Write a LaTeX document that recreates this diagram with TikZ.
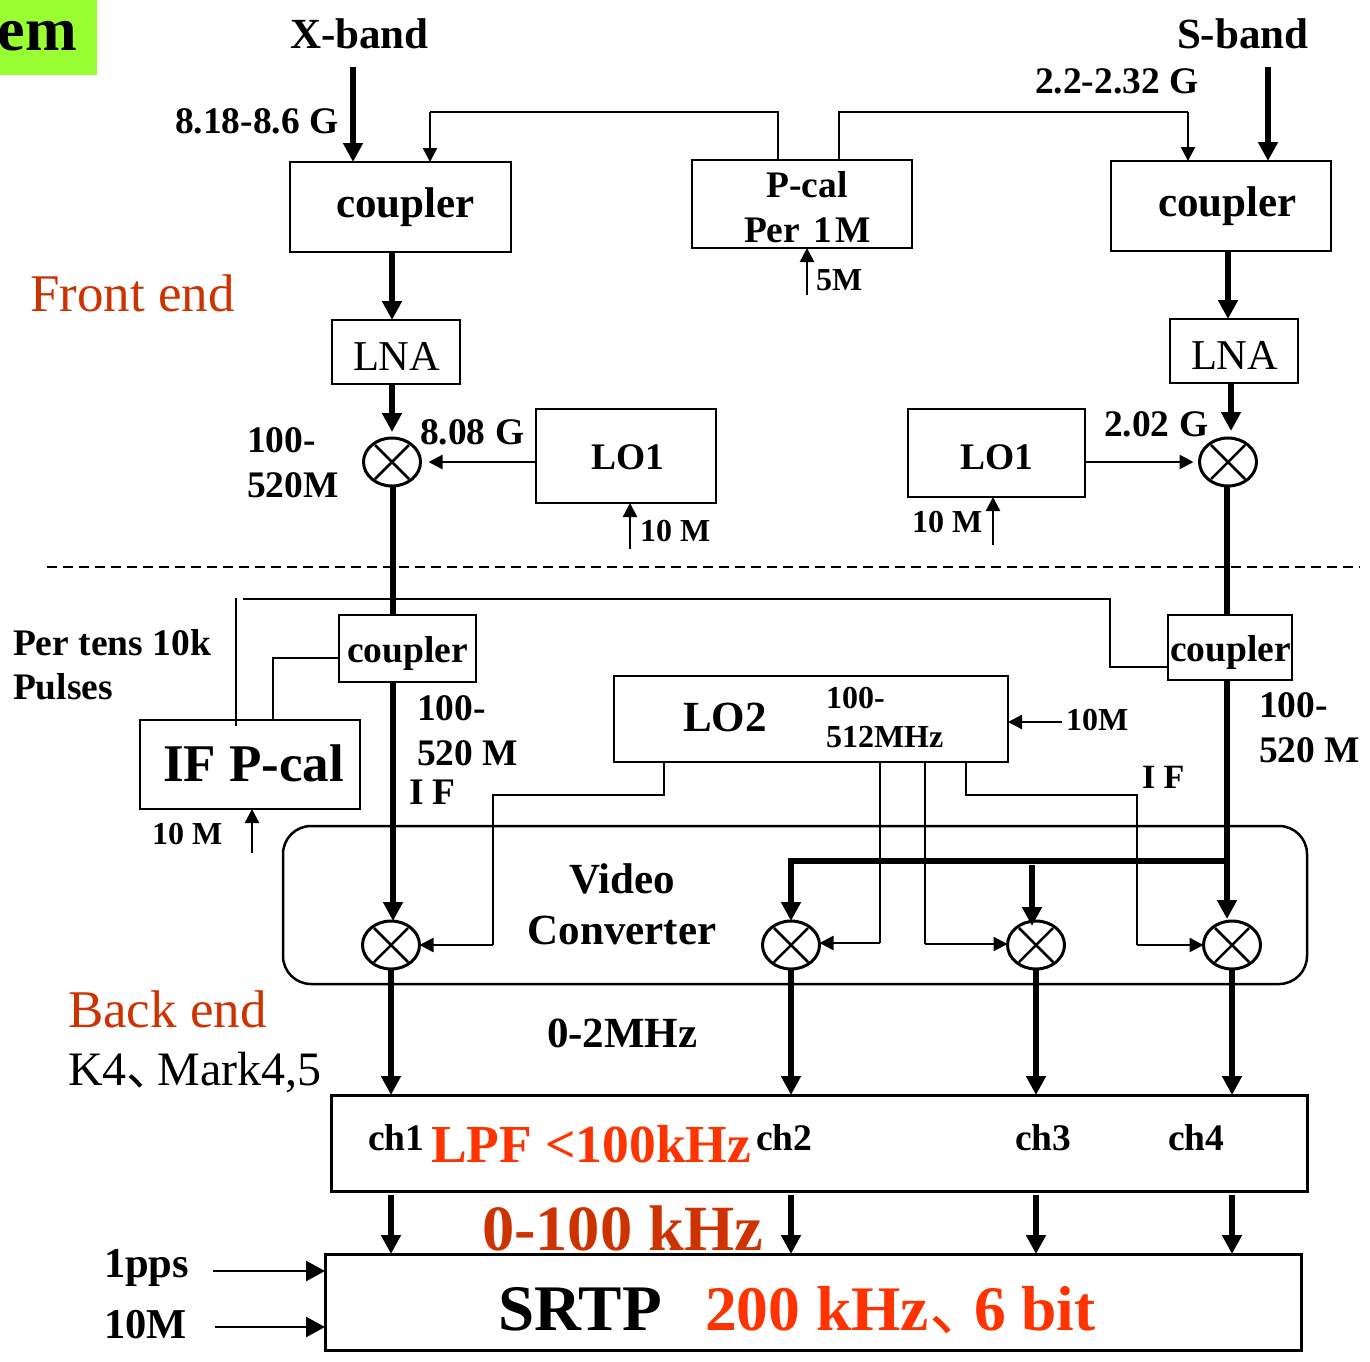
\documentclass[tikz,border=0pt]{standalone}
\usepackage{fontspec}
\setmainfont{Liberation Serif}
\newfontfamily\cjkf{Noto Sans CJK SC}
\usetikzlibrary{arrows.meta,shapes.geometric,calc}
\definecolor{limeg}{HTML}{99FF33}
\definecolor{rust}{HTML}{CC3300}
\definecolor{redor}{HTML}{FF3300}
\newcommand{\fsz}[1]{\fontsize{#1}{#1}\selectfont}
\newcommand{\dunhao}[1]{\makebox[#1][l]{\mdseries\cjkf 、}}
\tikzset{
  x=1pt,y=-1pt,
  box/.style={draw,line width=2.5pt,inner sep=0pt,outer sep=0pt},
  lab/.style={anchor=base west,inner sep=0pt,outer sep=0pt},
  labc/.style={anchor=base,inner sep=0pt,outer sep=0pt},
  bA/.style={font=\fsz{43}\bfseries},
  bB/.style={font=\fsz{37.5}\bfseries},
  bC/.style={font=\fsz{32}\bfseries},
  rA/.style={font=\fsz{42.5}},
  rB/.style={font=\fsz{53},text=rust},
  mixer/.style={ellipse,draw,line width=3pt,minimum width=57pt,minimum height=48pt,inner sep=0pt,outer sep=0pt,
    path picture={\draw[line width=2.5pt]
      ([shift={(-17pt,-17pt)}]path picture bounding box.center)--([shift={(17pt,17pt)}]path picture bounding box.center)
      ([shift={(-17pt,17pt)}]path picture bounding box.center)--([shift={(17pt,-17pt)}]path picture bounding box.center);}},
  thickarr/.style={line width=6pt,-{Triangle[width=19pt,length=19pt]}},
  thickline/.style={line width=6pt},
  thinarr/.style={line width=2.4pt,-{Triangle[width=14pt,length=14pt]}},
  ppsarr/.style={line width=2.4pt,-{Triangle[width=20pt,length=19pt]}},
  thinline/.style={line width=2.4pt,line join=miter},
}
\begin{document}
\begin{tikzpicture}
\useasboundingbox (0,0) rectangle (1370,1361);
% corner tag
\fill[limeg] (0,0) rectangle (97,75);
\begin{scope}
\clip (0,0) rectangle (97,75);
\node[anchor=base east,inner sep=0pt,font=\fsz{62}\bfseries] (tag) at (77,50) {em};
\end{scope}
% boxes
\node[box,minimum width=221pt,minimum height=90pt] (c1) at (400.5,207) {};
\node[box,minimum width=220pt,minimum height=88pt] (pc) at (802,204) {};
\node[box,minimum width=220pt,minimum height=90pt] (c2) at (1221,206) {};
\node[box,minimum width=128pt,minimum height=64pt] (lna1) at (396,352) {};
\node[box,minimum width=128pt,minimum height=64pt] (lna2) at (1234,351) {};
\node[box,minimum width=180pt,minimum height=94pt] (loa) at (626,456) {};
\node[box,minimum width=177pt,minimum height=88pt] (lob) at (996.5,453) {};
\node[box,minimum width=137pt,minimum height=67pt] (c3) at (407.5,648.5) {};
\node[box,minimum width=124pt,minimum height=65pt] (c4) at (1230,647.5) {};
\node[box,minimum width=220pt,minimum height=89pt] (ifp) at (250,764.5) {};
\node[box,minimum width=394pt,minimum height=86pt] (lo2) at (811,719) {};
\node[box,rounded corners=28pt,minimum width=1024pt,minimum height=158pt] (vc) at (795,905) {};
\node[box,line width=3pt,minimum width=976pt,minimum height=96pt] (lpf) at (819,1143) {};
\node[box,line width=3pt,minimum width=976pt,minimum height=96pt] (srtp) at (813,1302) {};
% mixers
\node[mixer] (m1) at (392,462) {};
\node[mixer] (m2) at (1228,462) {};
\node[mixer] (m3) at (391,945) {};
\node[mixer] (m4) at (791,945) {};
\node[mixer] (m5) at (1036,945) {};
\node[mixer] (m6) at (1232,945) {};
% free ends
\coordinate (xin) at (353,67);
\coordinate (sin) at (1268,67);
\coordinate (pl) at (778,112);
\coordinate (pr) at (839,112);
\coordinate (tl) at (430,112);
\coordinate (tr) at (1188,112);
\coordinate (fa) at (807,295);
\coordinate (fb) at (630,549);
\coordinate (fc) at (993,545);
\coordinate (fd) at (252,853);
\coordinate (fe) at (1062,722);
\coordinate (pps) at (213,1271);
\coordinate (tenm) at (215,1327);
\coordinate (da) at (47,567);
\coordinate (db) at (1360,567);
\coordinate (jn) at (1224,860.5);
\coordinate (jm) at (1032,865);
% top connectors
\draw[thickarr] (xin) -- (xin |- c1.north);
\draw[thickarr] (sin) -- (sin |- c2.north);
\draw[thinline] (pl |- pc.north) -- (pl) -- (tl);
\draw[thinarr] (tl) -- (tl |- c1.north);
\draw[thinline] (pr |- pc.north) -- (pr) -- (tr);
\draw[thinarr] (tr) -- (tr |- c2.north);
\draw[thinarr] (fa) -- (fa |- pc.south);
% front end chain
\draw[thickarr] (m1.north |- c1.south) -- (m1.north |- lna1.north);
\draw[thickarr] (m1.north |- lna1.south) -- ([yshift=6pt]m1.north);
\draw[thickarr] (m2.north |- c2.south) -- (m2.north |- lna2.north);
\draw[thickarr] ([xshift=3pt]m2.north |- lna2.south) -- ([xshift=3pt,yshift=7pt]m2.north);
\draw[thinarr] (loa.west |- m1.east) -- ([xshift=8pt]m1.east);
\draw[thinarr] (lob.east |- m2.west) -- ([xshift=-6pt]m2.west);
\draw[thinarr] (fb) -- (fb |- loa.south);
\draw[thinarr] (fc) -- (fc |- lob.south);
\draw[line width=2pt,dash pattern=on 10pt off 6pt] (da) -- (db);
% IF couplers
\draw[thickline] ([xshift=1pt]m1.south) -- ([xshift=1pt]m1.south |- c3.north);
\draw[thickarr] ([xshift=2pt]m3.north |- c3.south) -- ([xshift=2pt]m3.north);
\draw[thickline] ([xshift=-1pt]m2.south) -- ([xshift=-1pt]m2.south |- c4.north);
\draw[thickarr] ([xshift=-5pt]m6.north |- c4.south) -- ([xshift=-5pt,yshift=2pt]m6.north);
\draw[thickarr] (jn) -| (m4.north);
\draw[thickarr] (jm) -- ([yshift=-5pt]jm |- m5.north);
% IF P-cal lines
\draw[thinline] (236,598) -- (236,726);
\draw[thinline] (243,599) -- (1110,599) -- (1110,667) -- (c4.west |- 0,667);
\draw[thinline] (c3.west |- 0,658) -- (273,658) -- (273,720);
\draw[thinarr] (fd) -- (fd |- ifp.south);
% LO2 lines
\draw[thinline] (664,762) -- (664,795) -- (493,795) -- (493,945);
\draw[thinarr] (493,945) -- (m3.east);
\draw[thinline] (880,762) -- (880,943);
\draw[thinarr] (880,943) -- (m4.east |- 0,943);
\draw[thinline] (925,762) -- (925,944);
\draw[thinarr] (925,944) -- (m5.west |- 0,944);
\draw[thinline] (966,762) -- (966,795) -- (1137,795) -- (1137,945);
\draw[thinarr] (1137,945) -- (m6.west);
\draw[thinarr] (fe) -- (fe -| lo2.east);
% back end
\foreach \m in {m3,m4,m5,m6}{
  \draw[thickarr] (\m.south) -- (\m.south |- lpf.north);
  \draw[thickarr] ([yshift=-4pt]\m.south |- lpf.south) -- (\m.south |- srtp.north);
}
\draw[ppsarr] (pps) -- (pps -| srtp.west);
\draw[ppsarr] (tenm) -- (tenm -| srtp.west);
% labels
\node[lab,bA] (t1) at (290,48) {X-band};
\node[lab,bA] (t2) at (1177,48) {S-band};
\node[lab,bB] (t3) at (1035,93) {2.2-2.32 G};
\node[lab,bB] (t4) at (175,133) {8.18-8.6 G};
\node[lab,bA] (t5) at (336,217) {coupler};
\node[lab,bA] (t6) at (1158,216) {coupler};
\node[labc,bB] (t7) at (807,197) {P-cal};
\node[lab,bB] (t8) at (744,242) {Per\kern4pt\ 1\kern3pt M};
\node[lab,bC] (t9) at (816,290) {5M};
\node[lab,rB] (t10) at (30,311) {Front end};
\node[lab,rA] (t11) at (353,370) {LNA};
\node[lab,rA] (t12) at (1191,369) {LNA};
\node[lab,bB] (t13) at (247,452) {100-};
\node[lab,bB] (t14) at (247,497) {520M};
\node[lab,bB] (t15) at (420,444) {8.08 G};
\node[lab,bB] (t16) at (591,469) {LO1};
\node[lab,bB] (t17) at (960,469) {LO1};
\node[lab,bC] (t18) at (640,541) {10 M};
\node[lab,bC] (t19) at (912,532) {10 M};
\node[lab,bB] (t20) at (1104,436) {2.02 G};
\node[lab,bB] (t21) at (13,655) {Per tens 10k};
\node[lab,bB] (t22) at (13,699) {Pulses};
\node[lab,bB] (t23) at (347,662) {coupler};
\node[lab,bB] (t24) at (1170,661) {coupler};
\node[lab,bB] (t25) at (417,720) {100-};
\node[lab,bB] (t26) at (417,765) {520 M};
\node[lab,bB] (t27) at (409,804) {I F};
\node[lab,bA] (t28) at (683,731) {LO2};
\node[lab,bC] (t29) at (826,708) {100-};
\node[lab,bC] (t30) at (826,747) {512MHz};
\node[lab,bC] (t31) at (1066,730) {10M};
\node[lab,font=\fsz{34}\bfseries] (t32) at (1142,788) {I F};
\node[lab,bB] (t33) at (1259,717) {100-};
\node[lab,bB] (t34) at (1259,762) {520 M};
\node[lab,font=\fsz{53}\bfseries] (t35) at (163,781) {IF P-cal};
\node[lab,bC] (t36) at (152,844) {10 M};
\node[labc,bA] (t37) at (622,893) {Video};
\node[labc,bA] (t38) at (622,944) {Converter};
\node[lab,rB] (t39) at (68,1027) {Back end};
\node[lab,font=\fsz{48}] (t40) at (68,1085) {K4\dunhao{31pt}Mark4,5};
\node[lab,bA] (t41) at (547,1047) {0-2MHz};
\node[lab,bB] (t42) at (368,1150) {ch1};
\node[lab,bB] (t43) at (756,1150) {ch2};
\node[lab,bB] (t44) at (1015,1150) {ch3};
\node[lab,bB] (t45) at (1168,1150) {ch4};
\node[lab,font=\fsz{53.5}\bfseries,text=redor] (t46) at (431,1162) {LPF <100kHz};
\node[lab,font=\fsz{64.5}\bfseries,text=rust] (t47) at (482,1250) {0-100 kHz};
\node[lab,font=\fsz{42.5}\bfseries] (t48) at (104,1277) {1pps};
\node[lab,font=\fsz{42.5}\bfseries] (t49) at (104,1338) {10M};
\node[lab,font=\fsz{65}\bfseries] (t50) at (498,1330) {SRTP};
\node[lab,font=\fsz{63.5}\bfseries,text=redor] (t51) at (705,1330) {200 kHz\dunhao{45pt}6 bit};
\end{tikzpicture}
\end{document}
